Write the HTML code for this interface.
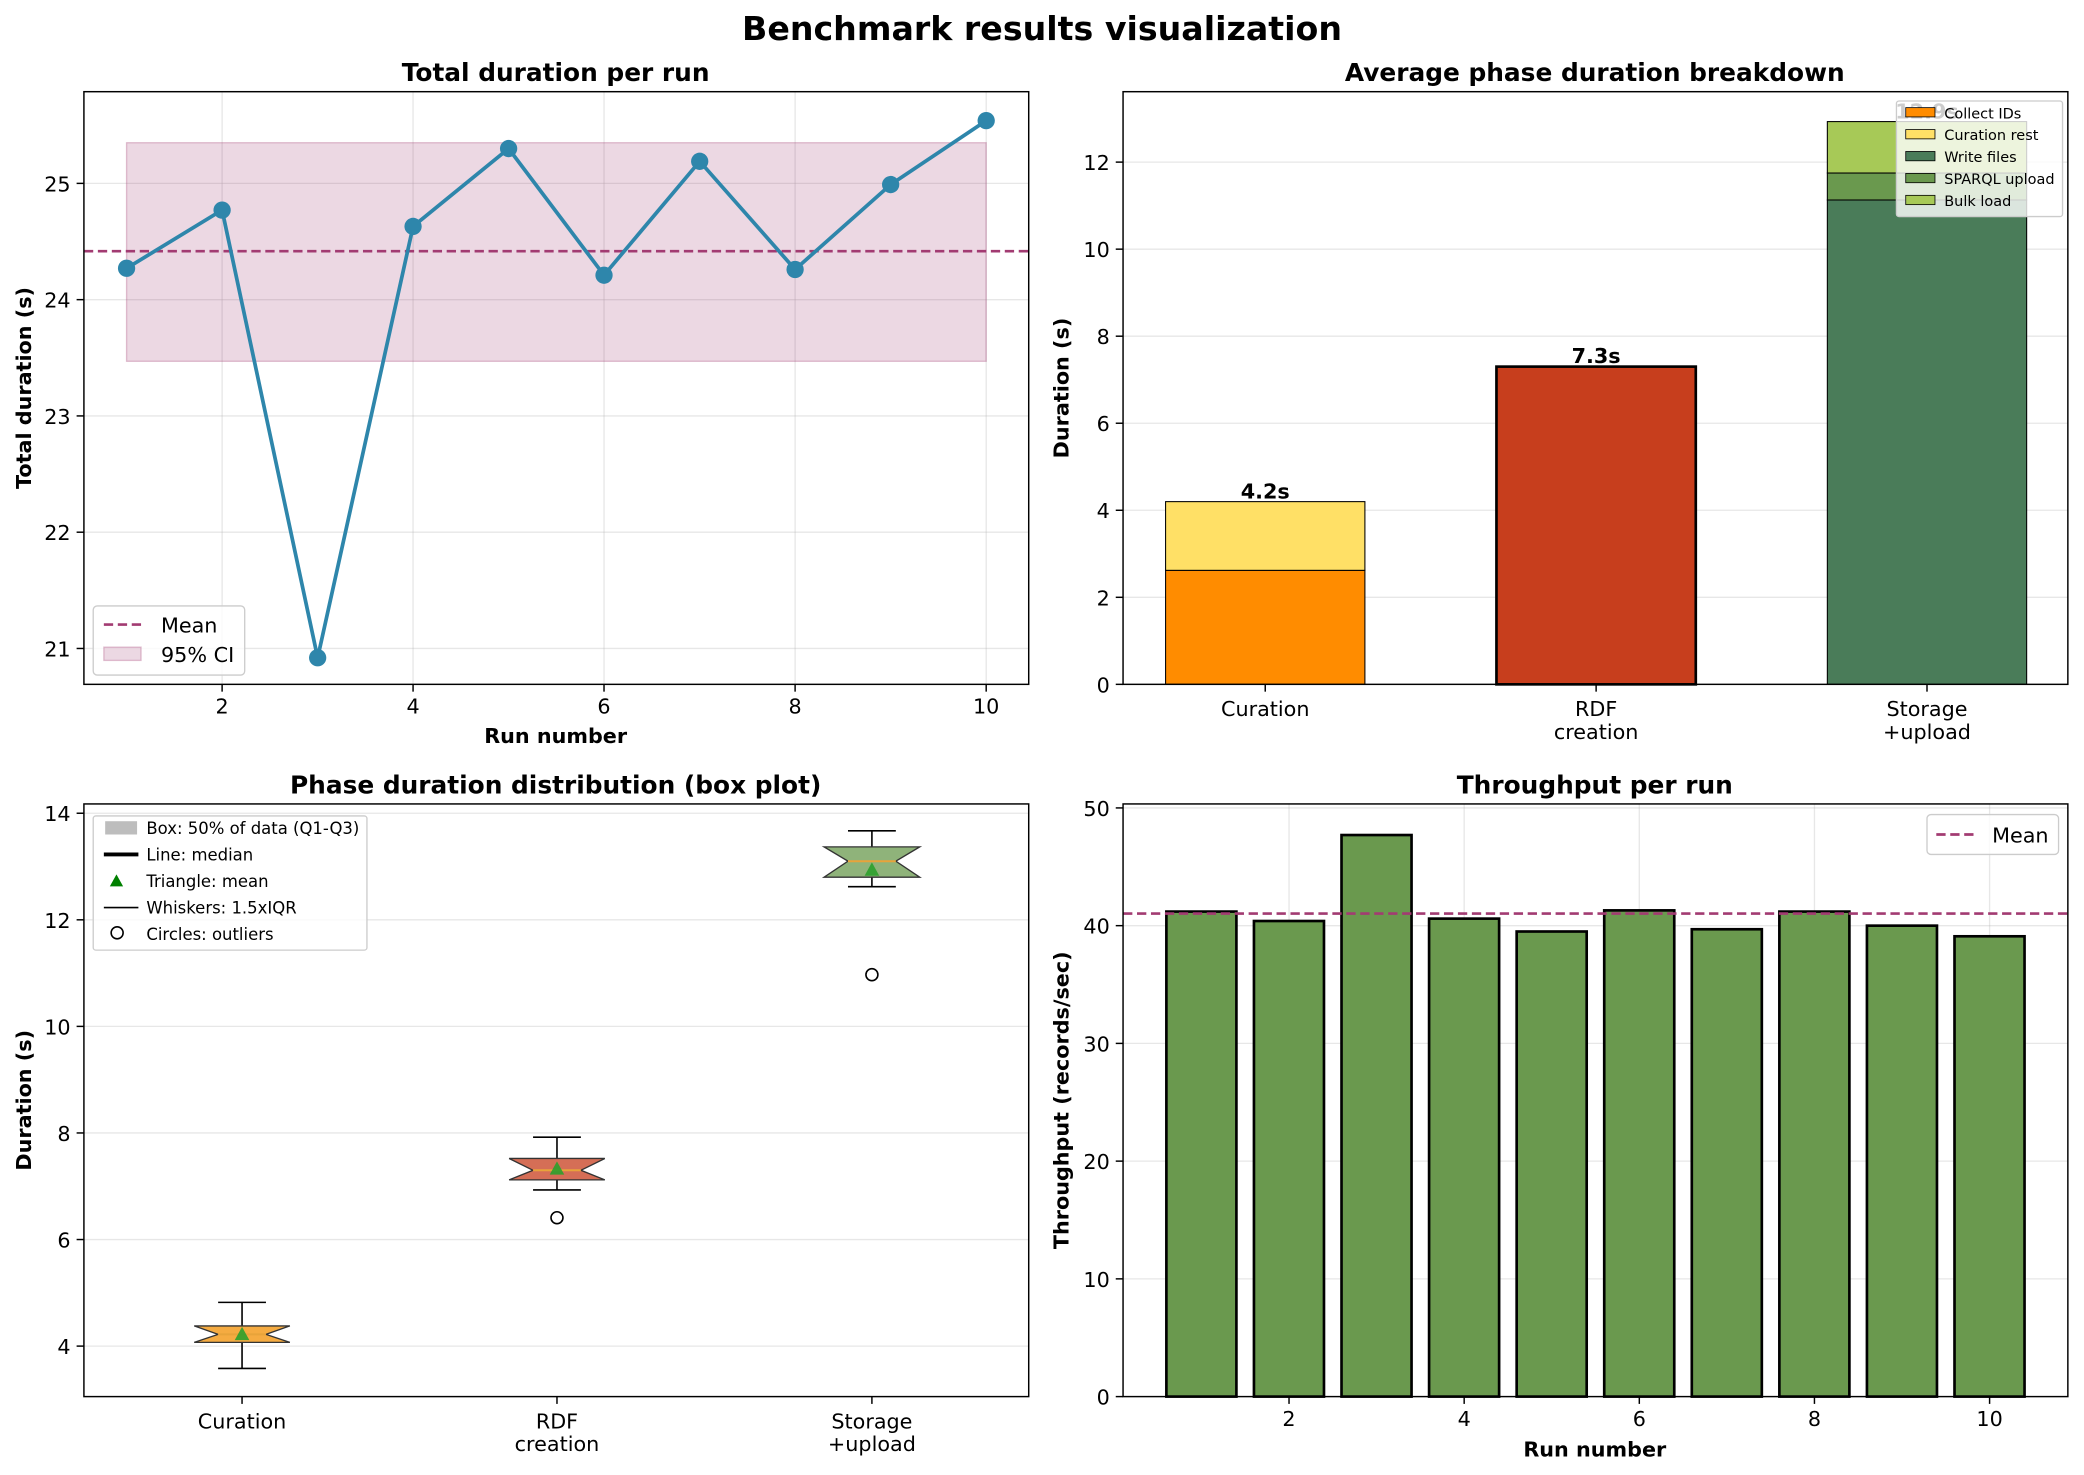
<!DOCTYPE html>
<html><head><meta charset="utf-8"><style>
html,body{margin:0;padding:0;background:#fff}
svg{display:block}
text{font-family:"DejaVu Sans","Liberation Sans",sans-serif;fill:#000}
.t{font-size:15.6px}
.ti{font-size:18.7px;font-weight:bold}
.al{font-size:15.6px;font-weight:bold}
.g{stroke:#b0b0b0;stroke-opacity:.3;stroke-width:1}
.ax{fill:none;stroke:#000;stroke-width:1.1}
.tk{stroke:#000;stroke-width:1.1}
</style></head><body>
<svg width="2084" height="1475" viewBox="0 0 1568 1110" xmlns="http://www.w3.org/2000/svg">
<rect width="1568" height="1110" fill="#fff"/>
<text x="784" y="30" text-anchor="middle" style="font-size:25px;font-weight:bold">Benchmark results visualization</text>

<!-- Panel 1 -->
<text x="418" y="61" text-anchor="middle" class="ti">Total duration per run</text>
<g class="g">
<line x1="167" y1="69" x2="167" y2="515"/><line x1="310.7" y1="69" x2="310.7" y2="515"/><line x1="454.4" y1="69" x2="454.4" y2="515"/><line x1="598.2" y1="69" x2="598.2" y2="515"/><line x1="742" y1="69" x2="742" y2="515"/>
<line x1="63" y1="488" x2="774" y2="488"/><line x1="63" y1="400.5" x2="774" y2="400.5"/><line x1="63" y1="313" x2="774" y2="313"/><line x1="63" y1="225.5" x2="774" y2="225.5"/><line x1="63" y1="138" x2="774" y2="138"/>
</g>
<rect x="95.1" y="107.4" width="646.9" height="164.5" fill="#A23B72" fill-opacity=".2" stroke="#A23B72" stroke-opacity=".3"/>
<line x1="63" y1="189" x2="774" y2="189" stroke="#A23B72" stroke-width="2" stroke-dasharray="7,3.5"/>
<polyline fill="none" stroke="#2E86AB" stroke-width="2.8" points="95.1,201.9 167,158.1 238.9,495 310.7,170.4 382.6,111.8 454.4,207.1 526.4,121.4 598.2,202.8 670.1,138.9 742,90.8"/>
<g fill="#2E86AB">
<circle cx="95.1" cy="201.9" r="6.5"/><circle cx="167" cy="158.1" r="6.5"/><circle cx="238.9" cy="495" r="6.5"/><circle cx="310.7" cy="170.4" r="6.5"/><circle cx="382.6" cy="111.8" r="6.5"/><circle cx="454.4" cy="207.1" r="6.5"/><circle cx="526.4" cy="121.4" r="6.5"/><circle cx="598.2" cy="202.8" r="6.5"/><circle cx="670.1" cy="138.9" r="6.5"/><circle cx="742" cy="90.8" r="6.5"/>
</g>
<rect x="63" y="69" width="711" height="446" class="ax"/>
<g class="tk">
<line x1="167" y1="515" x2="167" y2="520.5"/><line x1="310.7" y1="515" x2="310.7" y2="520.5"/><line x1="454.4" y1="515" x2="454.4" y2="520.5"/><line x1="598.2" y1="515" x2="598.2" y2="520.5"/><line x1="742" y1="515" x2="742" y2="520.5"/>
<line x1="57.5" y1="488" x2="63" y2="488"/><line x1="57.5" y1="400.5" x2="63" y2="400.5"/><line x1="57.5" y1="313" x2="63" y2="313"/><line x1="57.5" y1="225.5" x2="63" y2="225.5"/><line x1="57.5" y1="138" x2="63" y2="138"/>
</g>
<g class="t" text-anchor="middle">
<text x="167" y="537" class="t">2</text><text x="310.7" y="537" class="t">4</text><text x="454.4" y="537" class="t">6</text><text x="598.2" y="537" class="t">8</text><text x="742" y="537" class="t">10</text>
</g>
<g text-anchor="end">
<text x="53" y="494" class="t">21</text><text x="53" y="406.5" class="t">22</text><text x="53" y="319" class="t">23</text><text x="53" y="231.5" class="t">24</text><text x="53" y="144" class="t">25</text>
</g>
<text x="418" y="559" text-anchor="middle" class="al">Run number</text>
<text transform="translate(23,292) rotate(-90)" text-anchor="middle" class="al">Total duration (s)</text>
<rect x="70" y="456" width="114" height="52" rx="3" fill="#fff" fill-opacity=".8" stroke="#ccc"/>
<line x1="78" y1="470" x2="106" y2="470" stroke="#A23B72" stroke-width="2" stroke-dasharray="7,3.5"/>
<text x="121" y="476" class="t">Mean</text>
<rect x="78" y="487" width="28" height="10" fill="#A23B72" fill-opacity=".2" stroke="#A23B72" stroke-opacity=".3"/>
<text x="121" y="498" class="t">95% CI</text>

<!-- Panel 2 -->
<text x="1200" y="61" text-anchor="middle" class="ti">Average phase duration breakdown</text>
<g class="g">
<line x1="845" y1="449.5" x2="1556" y2="449.5"/><line x1="845" y1="384" x2="1556" y2="384"/><line x1="845" y1="318.5" x2="1556" y2="318.5"/><line x1="845" y1="253" x2="1556" y2="253"/><line x1="845" y1="187.5" x2="1556" y2="187.5"/><line x1="845" y1="122" x2="1556" y2="122"/>
</g>
<g stroke="#000" stroke-width=".8">
<rect x="877" y="429.2" width="150" height="85.8" fill="#FF8C00"/>
<rect x="877" y="377.5" width="150" height="51.7" fill="#FFE066"/>
<rect x="1126" y="275.9" width="150" height="239.1" fill="#C73E1D" stroke-width="2"/>
<rect x="1375" y="150.5" width="150" height="364.5" fill="#4A7C59"/>
<rect x="1375" y="130.2" width="150" height="20.3" fill="#6A994E"/>
<rect x="1375" y="91.5" width="150" height="38.7" fill="#A7C957"/>
</g>
<text x="952" y="375" text-anchor="middle" style="font-size:15.6px;font-weight:bold">4.2s</text>
<text x="1201" y="273" text-anchor="middle" style="font-size:15.6px;font-weight:bold">7.3s</text>
<text x="1450" y="89" text-anchor="middle" style="font-size:15.6px;font-weight:bold">12.9s</text>
<rect x="845" y="69" width="711" height="446" class="ax"/>
<g class="tk">
<line x1="952" y1="515" x2="952" y2="520.5"/><line x1="1201" y1="515" x2="1201" y2="520.5"/><line x1="1450" y1="515" x2="1450" y2="520.5"/>
<line x1="839.5" y1="515" x2="845" y2="515"/><line x1="839.5" y1="449.5" x2="845" y2="449.5"/><line x1="839.5" y1="384" x2="845" y2="384"/><line x1="839.5" y1="318.5" x2="845" y2="318.5"/><line x1="839.5" y1="253" x2="845" y2="253"/><line x1="839.5" y1="187.5" x2="845" y2="187.5"/><line x1="839.5" y1="122" x2="845" y2="122"/>
</g>
<g text-anchor="middle">
<text x="952" y="539" class="t">Curation</text>
<text x="1201" y="539" class="t">RDF</text><text x="1201" y="556" class="t">creation</text>
<text x="1450" y="539" class="t">Storage</text><text x="1450" y="556" class="t">+upload</text>
</g>
<g text-anchor="end">
<text x="835" y="521" class="t">0</text><text x="835" y="455.5" class="t">2</text><text x="835" y="390" class="t">4</text><text x="835" y="324.5" class="t">6</text><text x="835" y="259" class="t">8</text><text x="835" y="193.5" class="t">10</text><text x="835" y="128" class="t">12</text>
</g>
<text transform="translate(804,292) rotate(-90)" text-anchor="middle" class="al">Duration (s)</text>
<rect x="1427" y="76" width="125" height="87" rx="2" fill="#fff" fill-opacity=".8" stroke="#ccc"/>
<g stroke="#000" stroke-width=".6">
<rect x="1434" y="81" width="22" height="7" fill="#FF8C00"/>
<rect x="1434" y="97.5" width="22" height="7" fill="#FFE066"/>
<rect x="1434" y="114" width="22" height="7" fill="#4A7C59"/>
<rect x="1434" y="130.5" width="22" height="7" fill="#6A994E"/>
<rect x="1434" y="147" width="22" height="7" fill="#A7C957"/>
</g>
<g style="font-size:10.9px">
<text x="1463" y="89" style="font-size:10.9px">Collect IDs</text>
<text x="1463" y="105.5" style="font-size:10.9px">Curation rest</text>
<text x="1463" y="122" style="font-size:10.9px">Write files</text>
<text x="1463" y="138.5" style="font-size:10.9px">SPARQL upload</text>
<text x="1463" y="155" style="font-size:10.9px">Bulk load</text>
</g>

<!-- Panel 3 -->
<text x="418" y="597" text-anchor="middle" class="ti">Phase duration distribution (box plot)</text>
<g class="g">
<line x1="63" y1="1013" x2="774" y2="1013"/><line x1="63" y1="932.8" x2="774" y2="932.8"/><line x1="63" y1="852.6" x2="774" y2="852.6"/><line x1="63" y1="772.4" x2="774" y2="772.4"/><line x1="63" y1="692.2" x2="774" y2="692.2"/><line x1="63" y1="612" x2="774" y2="612"/>
</g>
<g stroke="#000" stroke-width="1.2" fill="none">
<line x1="182" y1="1010.2" x2="182" y2="1029.8"/><line x1="182" y1="997.8" x2="182" y2="980.1"/>
<line x1="164" y1="1029.8" x2="200" y2="1029.8"/><line x1="164" y1="980.1" x2="200" y2="980.1"/>
<line x1="419" y1="887.9" x2="419" y2="895.5"/><line x1="419" y1="871.8" x2="419" y2="855.8"/>
<line x1="401" y1="895.5" x2="437" y2="895.5"/><line x1="401" y1="855.8" x2="437" y2="855.8"/>
<line x1="656" y1="660.1" x2="656" y2="667.3"/><line x1="656" y1="637.3" x2="656" y2="625.2"/>
<line x1="638" y1="667.3" x2="674" y2="667.3"/><line x1="638" y1="625.2" x2="674" y2="625.2"/>
<circle cx="419" cy="916.4" r="4.5"/><circle cx="656" cy="733.5" r="4.5"/>
</g>
<g stroke="#333" stroke-width="1">
<polygon points="146,1010.2 218,1010.2 200,1004.2 218,997.8 146,997.8 164,1004.2" fill="#F18F01" fill-opacity=".75"/>
<polygon points="383,887.9 455,887.9 437,880.7 455,871.8 383,871.8 401,880.7" fill="#C73E1D" fill-opacity=".75"/>
<polygon points="620,660.1 692,660.1 674,648.1 692,637.3 620,637.3 638,648.1" fill="#6A994E" fill-opacity=".75"/>
</g>
<g stroke="#E8A33A" stroke-width="1.5">
<line x1="164" y1="1004.2" x2="200" y2="1004.2"/><line x1="401" y1="880.7" x2="437" y2="880.7"/><line x1="638" y1="648.1" x2="674" y2="648.1"/>
</g>
<g fill="#2ca02c" fill-opacity=".9">
<polygon points="182,998.5 176.5,1008.5 187.5,1008.5"/>
<polygon points="419,874 413.5,884 424.5,884"/>
<polygon points="656,649 650.5,659 661.5,659"/>
</g>
<rect x="63" y="605" width="711" height="446" class="ax"/>
<g class="tk">
<line x1="182" y1="1051" x2="182" y2="1056.5"/><line x1="419" y1="1051" x2="419" y2="1056.5"/><line x1="656" y1="1051" x2="656" y2="1056.5"/>
<line x1="57.5" y1="1013" x2="63" y2="1013"/><line x1="57.5" y1="932.8" x2="63" y2="932.8"/><line x1="57.5" y1="852.6" x2="63" y2="852.6"/><line x1="57.5" y1="772.4" x2="63" y2="772.4"/><line x1="57.5" y1="692.2" x2="63" y2="692.2"/><line x1="57.5" y1="612" x2="63" y2="612"/>
</g>
<g text-anchor="middle">
<text x="182" y="1075" class="t">Curation</text>
<text x="419" y="1075" class="t">RDF</text><text x="419" y="1092" class="t">creation</text>
<text x="656" y="1075" class="t">Storage</text><text x="656" y="1092" class="t">+upload</text>
</g>
<g text-anchor="end">
<text x="53" y="1019" class="t">4</text><text x="53" y="938.8" class="t">6</text><text x="53" y="858.6" class="t">8</text><text x="53" y="778.4" class="t">10</text><text x="53" y="698.2" class="t">12</text><text x="53" y="618" class="t">14</text>
</g>
<text transform="translate(23,828) rotate(-90)" text-anchor="middle" class="al">Duration (s)</text>
<rect x="70" y="614" width="206" height="101" rx="2" fill="#fff" fill-opacity=".8" stroke="#ccc"/>
<rect x="79" y="618" width="24" height="10" fill="#bdbdbd"/>
<line x1="78" y1="643" x2="104" y2="643" stroke="#000" stroke-width="3"/>
<polygon points="87.5,658 82.5,667 92.5,667" fill="#008000"/>
<line x1="78" y1="683" x2="104" y2="683" stroke="#000" stroke-width="1.2"/>
<circle cx="88" cy="702" r="4.5" fill="none" stroke="#000" stroke-width="1.2"/>
<text x="110" y="627.5" style="font-size:12.4px">Box: 50% of data (Q1-Q3)</text>
<text x="110" y="647.5" style="font-size:12.4px">Line: median</text>
<text x="110" y="667.5" style="font-size:12.4px">Triangle: mean</text>
<text x="110" y="687.5" style="font-size:12.4px">Whiskers: 1.5xIQR</text>
<text x="110" y="707.5" style="font-size:12.4px">Circles: outliers</text>

<!-- Panel 4 -->
<text x="1200" y="597" text-anchor="middle" class="ti">Throughput per run</text>
<g class="g">
<line x1="969.9" y1="605" x2="969.9" y2="1051"/><line x1="1101.7" y1="605" x2="1101.7" y2="1051"/><line x1="1233.5" y1="605" x2="1233.5" y2="1051"/><line x1="1365.3" y1="605" x2="1365.3" y2="1051"/><line x1="1497.1" y1="605" x2="1497.1" y2="1051"/>
<line x1="845" y1="962.4" x2="1556" y2="962.4"/><line x1="845" y1="873.8" x2="1556" y2="873.8"/><line x1="845" y1="785.2" x2="1556" y2="785.2"/><line x1="845" y1="696.6" x2="1556" y2="696.6"/><line x1="845" y1="608" x2="1556" y2="608"/>
</g>
<g fill="#6A994E" stroke="#000" stroke-width="2">
<rect x="877.6" y="686" width="52.7" height="365"/>
<rect x="943.5" y="693.1" width="52.7" height="357.9"/>
<rect x="1009.4" y="628.4" width="52.7" height="422.6"/>
<rect x="1075.3" y="691.3" width="52.7" height="359.7"/>
<rect x="1141.2" y="701" width="52.7" height="350"/>
<rect x="1207.1" y="685.1" width="52.7" height="365.9"/>
<rect x="1273" y="699.3" width="52.7" height="351.7"/>
<rect x="1338.9" y="686" width="52.7" height="365"/>
<rect x="1404.8" y="696.6" width="52.7" height="354.4"/>
<rect x="1470.7" y="704.6" width="52.7" height="346.4"/>
</g>
<line x1="845" y1="687.5" x2="1556" y2="687.5" stroke="#A23B72" stroke-width="2" stroke-dasharray="7,3.5"/>
<rect x="845" y="605" width="711" height="446" class="ax"/>
<g class="tk">
<line x1="969.9" y1="1051" x2="969.9" y2="1056.5"/><line x1="1101.7" y1="1051" x2="1101.7" y2="1056.5"/><line x1="1233.5" y1="1051" x2="1233.5" y2="1056.5"/><line x1="1365.3" y1="1051" x2="1365.3" y2="1056.5"/><line x1="1497.1" y1="1051" x2="1497.1" y2="1056.5"/>
<line x1="839.5" y1="1051" x2="845" y2="1051"/><line x1="839.5" y1="962.4" x2="845" y2="962.4"/><line x1="839.5" y1="873.8" x2="845" y2="873.8"/><line x1="839.5" y1="785.2" x2="845" y2="785.2"/><line x1="839.5" y1="696.6" x2="845" y2="696.6"/><line x1="839.5" y1="608" x2="845" y2="608"/>
</g>
<g text-anchor="middle">
<text x="969.9" y="1073" class="t">2</text><text x="1101.7" y="1073" class="t">4</text><text x="1233.5" y="1073" class="t">6</text><text x="1365.3" y="1073" class="t">8</text><text x="1497.1" y="1073" class="t">10</text>
</g>
<g text-anchor="end">
<text x="835" y="1057" class="t">0</text><text x="835" y="968.4" class="t">10</text><text x="835" y="879.8" class="t">20</text><text x="835" y="791.2" class="t">30</text><text x="835" y="702.6" class="t">40</text><text x="835" y="614" class="t">50</text>
</g>
<text x="1200" y="1096" text-anchor="middle" class="al">Run number</text>
<text transform="translate(804,828) rotate(-90)" text-anchor="middle" class="al">Throughput (records/sec)</text>
<rect x="1450" y="613" width="99" height="30" rx="3" fill="#fff" fill-opacity=".8" stroke="#ccc"/>
<line x1="1457" y1="628" x2="1485" y2="628" stroke="#A23B72" stroke-width="2" stroke-dasharray="7,3.5"/>
<text x="1499" y="634" class="t">Mean</text>
</svg>
</body></html>
